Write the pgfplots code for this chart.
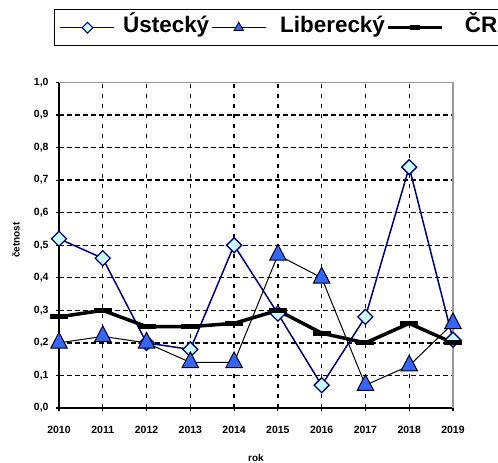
\documentclass[border=0pt]{standalone}
\usepackage{pgfplots}
\pgfplotsset{compat=1.18}
\usepackage{fontspec}
\setmainfont{Liberation Sans}
\definecolor{navyb}{RGB}{0,0,128}
\definecolor{lcyan}{RGB}{204,255,255}
\definecolor{roy}{RGB}{51,102,255}
\begin{document}
\begin{tikzpicture}
\begin{axis}[
  scale only axis, width=394bp, height=325.5bp,
  xmin=2010, xmax=2019, ymin=0, ymax=1,
  clip=false,
  xtick={2010,2011,2012,2013,2014,2015,2016,2017,2018,2019},
  xticklabels={2010,2011,2012,2013,2014,2015,2016,2017,2018,2019},
  ytick={0,0.1,0.2,0.3,0.4,0.5,0.6,0.7,0.8,0.9,1.0},
  yticklabel style={xshift=-4bp, /pgf/number format/use comma, /pgf/number format/fixed, /pgf/number format/fixed zerofill, /pgf/number format/precision=1, /pgf/number format/assume math mode=true},
  ticklabel style={font=\fontsize{10.5}{12}\selectfont\bfseries},
  xticklabel style={yshift=-12bp},
  axis x line*=bottom, axis y line*=left,
  axis line style={black, line width=1.5bp},
  tick style={black, line width=1.2bp},
  tick align=center, major tick length=6bp,
  grid=major,
  y grid style={black, line width=1.3bp, dash pattern=on 4.5bp off 3.5bp},
  x grid style={black, line width=1.3bp, dash pattern=on 4bp off 6bp},
  xlabel={rok}, ylabel={četnost},
  label style={font=\fontsize{10}{11}\selectfont\bfseries},
  xlabel style={at={(axis description cs:0.5,-0.153)}, anchor=center},
  ylabel style={at={(axis description cs:-0.109,0.516)}, anchor=center},
  legend image code/.code={\draw[mark repeat=2,mark phase=2,#1] plot coordinates {(0bp,0bp) (27bp,0bp) (54bp,0bp)};},
  legend columns=-1,
  legend style={at={(axis description cs:-0.0127,1.2258)}, anchor=north west,
    draw=black, line width=1.5bp, font=\fontsize{22.5}{24}\selectfont\bfseries,
    inner xsep=5bp, inner ysep=4bp,
    /tikz/every odd column/.append style={column sep=12bp},
    cells={anchor=west},
    nodes={inner sep=2bp, text height=17bp, text depth=7bp}},
]
\addlegendimage{navyb, line width=1.5bp, mark=square*, mark options={rotate=45, fill=lcyan, draw=navyb, mark size=3.8bp, line width=1.2bp}}
\addlegendentry{\hspace{-6bp}Ústecký}
\addlegendimage{black, line width=1bp, mark=triangle*, mark options={fill=roy, draw=black, mark size=5.5bp, line width=0.8bp}}
\addlegendentry{Liberecký}
\addlegendimage{black, line width=3bp, mark=-, mark options={mark size=5bp, line width=4.5bp}}
\addlegendentry{\hspace{7bp}ČR\hspace{12bp}}

\addplot[navyb, line width=1.5bp, mark=square*, mark options={rotate=45, fill=lcyan, draw=navyb, mark size=5.3bp, line width=1.3bp}, forget plot]
 coordinates {(2010,0.52) (2011,0.46) (2012,0.20) (2013,0.18) (2014,0.50) (2015,0.29) (2016,0.07) (2017,0.28) (2018,0.74) (2019,0.21)};
\addplot[black, line width=1bp, mark=triangle*, mark options={fill=roy, draw=black, mark size=9.5bp, yscale=1.1, line width=1bp}, forget plot]
 coordinates {(2010,0.20) (2011,0.22) (2012,0.20) (2013,0.14) (2014,0.14) (2015,0.47) (2016,0.40) (2017,0.07) (2018,0.13) (2019,0.26)};
\addplot[black, line width=3.5bp, mark=-, mark options={mark size=9bp, line width=5bp}, forget plot]
 coordinates {(2010,0.28) (2011,0.30) (2012,0.25) (2013,0.25) (2014,0.26) (2015,0.30) (2016,0.23) (2017,0.20) (2018,0.26) (2019,0.20)};
\draw[gray!80, line width=1.3bp] (rel axis cs:0,1) -- (rel axis cs:1,1) -- (rel axis cs:1,0);
\end{axis}
\pgfresetboundingbox
\useasboundingbox (-59bp,-55bp) rectangle (439bp,408bp);
\end{tikzpicture}
\end{document}
